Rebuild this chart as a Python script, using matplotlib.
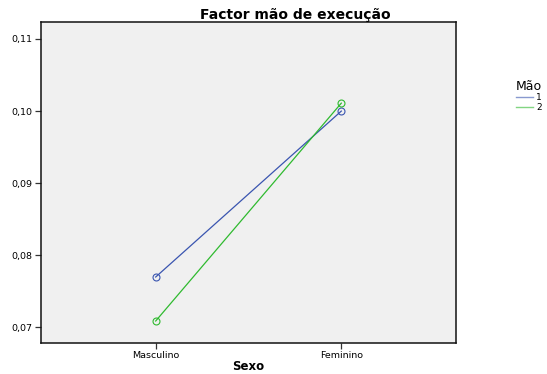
import matplotlib
matplotlib.use("Agg")
import matplotlib.pyplot as plt
from matplotlib.ticker import FuncFormatter
from matplotlib.lines import Line2D

plt.rcParams['font.family'] = ['DejaVu Sans']

sexo = ['Masculino', 'Feminino']
mao_1 = [0.0770, 0.1000]
mao_2 = [0.0709, 0.1011]
yticks = [0.07, 0.08, 0.09, 0.10, 0.11]
cores = ['#3a55b0', '#2fba2f']

fig = plt.figure(figsize=(5.47, 3.74), dpi=100)
ax = fig.add_axes([41 / 547, 1 - 343 / 374, 415 / 547, 321 / 374])
ax.set_facecolor('#f0f0f0')

x = list(range(len(sexo)))
for serie, cor in zip([mao_1, mao_2], cores):
    ax.plot(x, serie, color=cor, lw=0.9, marker='o', ms=5,
            mfc='none', mec=cor, mew=0.8)

ax.set_xlim(-0.618, 1.618)
ax.set_ylim(0.06785, 0.11235)
ax.set_xticks(x)
ax.set_xticklabels(sexo)
ax.set_yticks(yticks)
ax.yaxis.set_major_formatter(FuncFormatter(lambda v, p: f'{v:.2f}'.replace('.', ',')))
ax.tick_params(labelsize=6.8, length=4, width=0.9, color='#333333', pad=2)
for s in ax.spines.values():
    s.set_linewidth(1.1)
    s.set_color('#111111')

fig.text(248 / 547, 1 - 367 / 374, 'Sexo', fontsize=8.5, fontweight='bold',
         ha='center', va='center')
fig.text(295 / 547, 1 - 15 / 374, 'Factor mão de execução', fontsize=10,
         fontweight='bold', ha='center', va='center')

handles = [Line2D([0], [0], color=c, lw=1.0, alpha=0.6) for c in cores]
fig.legend(handles, ['1', '2'], title='Mão', loc='upper left',
           bbox_to_anchor=(516 / 547, 1 - 80 / 374), frameon=False,
           fontsize=6.5, title_fontsize=9, handlelength=1.9,
           handletextpad=0.3, labelspacing=0.05, borderaxespad=0,
           borderpad=0)

fig.savefig('out.png', dpi=100)
